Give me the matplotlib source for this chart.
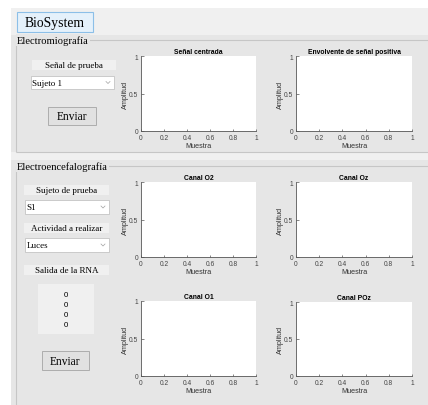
import matplotlib
matplotlib.use('Agg')
import matplotlib.pyplot as plt
from matplotlib.patches import Rectangle

# ---- data ----
app_title = "BioSystem"
emg_panel_title = "Electromiografía"
eeg_panel_title = "Electroencefalografía"
emg_titles = ["Señal centrada", "Envolvente de señal positiva"]
eeg_titles = ["Canal O2", "Canal Oz", "Canal O1", "Canal POz"]
xticks = [0, 0.2, 0.4, 0.6, 0.8, 1]
xtick_labels = ["0", "0.2", "0.4", "0.6", "0.8", "1"]
yticks = [0, 0.5, 1]
ytick_labels = ["0", "0.5", "1"]
xlabel = "Muestra"
ylabel = "Amplitud"
emg_label = "Señal de prueba"
emg_subject = "Sujeto 1"
eeg_subject_label = "Sujeto de prueba"
eeg_subject = "S1"
eeg_activity_label = "Actividad a realizar"
eeg_activity = "Luces"
rna_label = "Salida de la RNA"
rna_outputs = [0, 0, 0, 0]
button_text = "Enviar"

W, H = 428, 406
fig = plt.figure(figsize=(W / 100, H / 100), dpi=100)
fig.patch.set_facecolor('white')
bg = fig.add_axes([0, 0, 1, 1])
bg.set_xlim(0, W)
bg.set_ylim(H, 0)
bg.axis('off')

SERIF = ['Liberation Serif', 'DejaVu Serif']
SANS = ['Liberation Sans', 'DejaVu Sans']
WIN = '#f0f0f0'
PANEL = '#e6e6e6'
LINE = '#c6c6c6'


def rect(x0, y0, x1, y1, fc, ec='none', lw=0.8, z=1):
    bg.add_patch(Rectangle((x0, y0), x1 - x0, y1 - y0, fc=fc, ec=ec, lw=lw, zorder=z))


def line(xs, ys, c=LINE, lw=0.8, z=2):
    bg.plot(xs, ys, color=c, lw=lw, zorder=z, solid_capstyle='butt')


# window
rect(11, 9, W + 1, H + 1, WIN)
# title button
rect(17, 13, 93, 33, '#e5f1fb', ec='#8cbfe8', lw=0.8, z=3)
bg.text(55, 23.5, app_title, family=SERIF, fontsize=9.8, ha='center', va='center', zorder=4)


def panel(y0, y1, yline, title):
    rect(11, y0, W + 1, y1, PANEL)
    line([16, 16], [yline, y1], z=2)
    line([16, W + 1], [y1, y1], z=2)
    line([16, W + 1], [yline, yline], z=2)
    bg.text(17, yline, title, family=SERIF, fontsize=7.6, ha='left', va='center', zorder=4,
            bbox=dict(fc=PANEL, ec='none', pad=0.6))


panel(36, 153, 41, emg_panel_title)
panel(161, H + 2, 167, eeg_panel_title)


def label_box(x0, y0, x1, y1, txt):
    rect(x0, y0, x1, y1, WIN, z=3)
    bg.text((x0 + x1) / 2, (y0 + y1) / 2 + 0.3, txt, family=SERIF, fontsize=6.5,
            ha='center', va='center', zorder=4)


def dropdown(x0, y0, x1, y1, txt):
    rect(x0, y0, x1, y1, 'white', ec='#c4c4c4', lw=0.6, z=3)
    bg.text(x0 + 1.5, (y0 + y1) / 2 + 0.3, txt, family=SERIF, fontsize=6.5,
            ha='left', va='center', zorder=4)
    cx, cy = x1 - 6, (y0 + y1) / 2
    bg.plot([cx - 2, cx, cx + 2], [cy - 1, cy + 1, cy - 1], color='#a0a0a0', lw=0.5, zorder=4)


def button(x0, y0, x1, y1, txt):
    rect(x0, y0, x1, y1, '#e1e1e1', ec='#adadad', lw=0.7, z=3)
    bg.text((x0 + x1) / 2, (y0 + y1) / 2 + 0.3, txt, family=SERIF, fontsize=8.3,
            ha='center', va='center', zorder=4)


# EMG controls
label_box(32, 61, 116, 71, emg_label)
dropdown(31, 77, 114, 90, emg_subject)
button(48, 108, 96, 126, button_text)

# EEG controls
label_box(24, 186, 109, 196, eeg_subject_label)
dropdown(25, 201, 109, 215, eeg_subject)
label_box(24, 224, 109, 234, eeg_activity_label)
dropdown(25, 239, 109, 253, eeg_activity)
label_box(24, 266, 109, 276, rna_label)
rect(38, 285, 94, 335, WIN, z=3)
for i, v in enumerate(rna_outputs):
    bg.text(66, 296 + i * 9.8, str(v), family=SANS, fontsize=5.7, ha='center', va='center', zorder=4)
button(42, 352, 89, 371, button_text)


def make_axes(x0, y0, x1, y1, title):
    ax = fig.add_axes([x0 / W, 1 - y1 / H, (x1 - x0) / W, (y1 - y0) / H])
    ax.set_facecolor('white')
    ax.set_xlim(0, 1)
    ax.set_ylim(0, 1)
    ax.set_xticks(xticks)
    ax.set_xticklabels(xtick_labels)
    ax.set_yticks(yticks)
    ax.set_yticklabels(ytick_labels)
    for s in ['top', 'right']:
        ax.spines[s].set_visible(False)
    for s in ['left', 'bottom']:
        ax.spines[s].set_color('#555555')
        ax.spines[s].set_linewidth(0.6)
    ax.tick_params(direction='in', length=1.8, width=0.5, colors='#555555',
                   labelcolor='#444444', labelsize=4.8, pad=2)
    ax.set_xlabel(xlabel, family=SANS, fontsize=5.2, color='#333333', labelpad=1)
    ax.set_ylabel(ylabel, family=SANS, fontsize=5.2, color='#333333', labelpad=0)
    for lab in ax.get_xticklabels() + ax.get_yticklabels():
        lab.set_family(SANS)
    ax.set_title(title, family=SANS, fontsize=4.9, fontweight='bold', pad=2.5)
    return ax


make_axes(141, 57, 256, 132, emg_titles[0])
make_axes(296, 57, 412, 132, emg_titles[1])
make_axes(141, 183, 256, 258, eeg_titles[0])
make_axes(296, 183, 412, 258, eeg_titles[1])
make_axes(141, 302, 256, 377, eeg_titles[2])
make_axes(296, 303, 412, 377, eeg_titles[3])

fig.savefig('out.png', dpi=100, facecolor=fig.get_facecolor())
